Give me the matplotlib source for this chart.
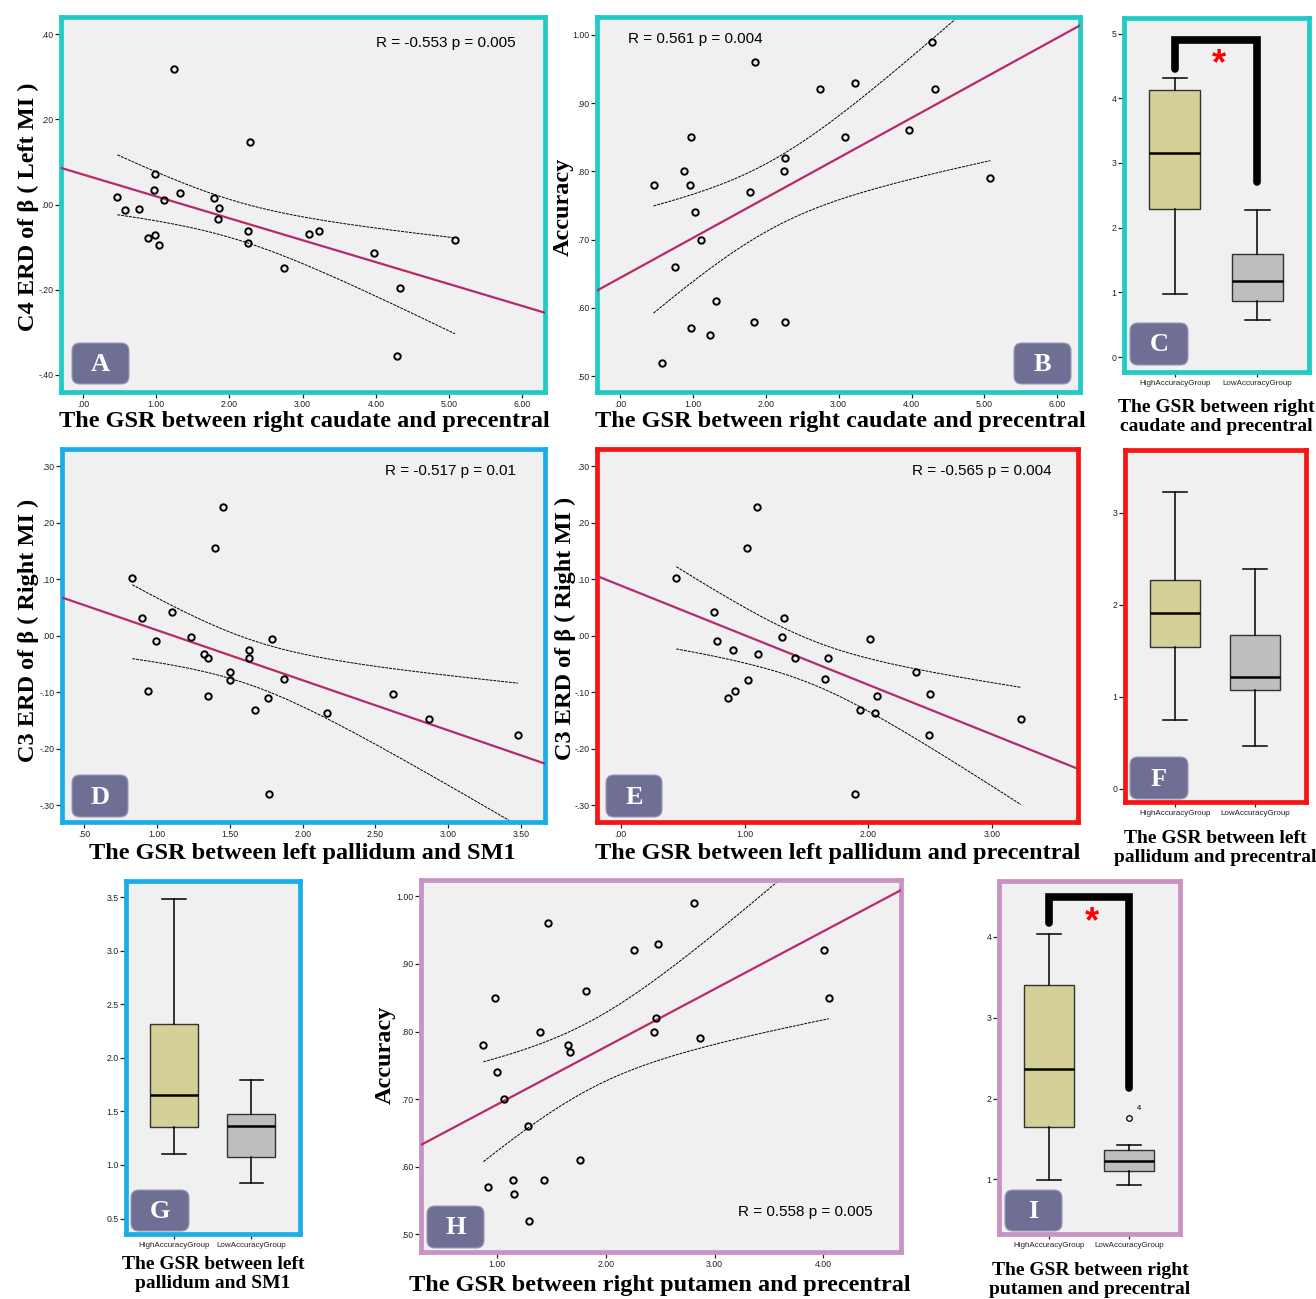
import numpy as np
import matplotlib
matplotlib.use("Agg")
import matplotlib.pyplot as plt
from matplotlib.patches import FancyBboxPatch
from matplotlib.ticker import FuncFormatter

W, H = 1316, 1299

# ---- data ----
a_x = [1.24, 2.28, 0.99, 0.97, 1.33, 0.47, 1.11, 1.79, 0.58, 0.76, 1.86, 1.85,
       2.26, 3.09, 3.23, 0.89, 0.99, 1.04, 2.26, 5.08, 3.98, 2.75, 4.33, 4.29]
a_y = [0.319, 0.147, 0.072, 0.034, 0.028, 0.018, 0.010, 0.016, -0.013, -0.011, -0.009, -0.035,
       -0.063, -0.069, -0.063, -0.078, -0.071, -0.096, -0.091, -0.084, -0.113, -0.148, -0.196, -0.355]

b_x = [0.46, 0.57, 0.76, 0.88, 0.96, 0.97, 0.98, 1.03, 1.11, 1.23, 1.32, 1.79,
       1.84, 1.85, 2.25, 2.26, 2.27, 2.74, 3.09, 3.22, 3.97, 4.28, 4.32, 5.08]
b_y = [0.78, 0.52, 0.66, 0.80, 0.78, 0.85, 0.57, 0.74, 0.70, 0.56, 0.61, 0.77,
       0.58, 0.96, 0.80, 0.82, 0.58, 0.92, 0.85, 0.93, 0.86, 0.99, 0.92, 0.79]

d_x = [0.83, 0.895, 0.99, 0.94, 1.10, 1.23, 1.32, 1.35, 1.35, 1.40, 1.45, 1.50,
       1.50, 1.63, 1.63, 1.67, 1.76, 1.77, 1.79, 1.875, 2.17, 2.62, 2.87, 3.48]
d_y = [0.103, 0.031, -0.010, -0.098, 0.042, -0.003, -0.033, -0.039, -0.106, 0.155, 0.228, -0.079,
       -0.065, -0.025, -0.039, -0.131, -0.111, -0.281, -0.006, -0.076, -0.136, -0.103, -0.147, -0.175]

e_x = [0.45, 0.75, 0.78, 0.91, 0.87, 0.92, 1.02, 1.03, 1.10, 1.11, 1.30, 1.32,
       1.405, 1.65, 1.67, 1.89, 1.93, 2.015, 2.05, 2.07, 2.385, 2.49, 2.50, 3.23]
e_y = [0.103, 0.042, -0.010, -0.025, -0.111, -0.098, 0.155, -0.079, 0.228, -0.033, -0.003, 0.031,
       -0.040, -0.076, -0.039, -0.281, -0.131, -0.006, -0.136, -0.106, -0.065, -0.175, -0.103, -0.147]

h_x = [0.874, 0.92, 0.98, 1.00, 1.06, 1.145, 1.16, 1.28, 1.29, 1.39, 1.43, 1.465,
       1.65, 1.67, 1.76, 1.82, 2.26, 2.44, 2.46, 2.48, 2.81, 2.87, 4.01, 4.05]
h_y = [0.78, 0.57, 0.85, 0.74, 0.70, 0.58, 0.56, 0.66, 0.52, 0.80, 0.58, 0.96,
       0.78, 0.77, 0.61, 0.86, 0.92, 0.80, 0.82, 0.93, 0.99, 0.79, 0.92, 0.85]

groups = ["HighAccuracyGroup", "LowAccuracyGroup"]
# whislo, q1, median, q3, whishi
c_high = [0.98, 2.29, 3.16, 4.13, 4.32]
c_low = [0.58, 0.87, 1.17, 1.59, 2.27]
f_high = [0.75, 1.54, 1.91, 2.27, 3.22]
f_low = [0.46, 1.07, 1.21, 1.67, 2.39]
g_high = [1.10, 1.35, 1.65, 2.32, 3.48]
g_low = [0.83, 1.07, 1.36, 1.475, 1.79]
i_high = [0.99, 1.65, 2.37, 3.40, 4.04]
i_low = [0.93, 1.11, 1.23, 1.36, 1.43]
i_low_outlier = [1.76]

stats_text = {"A": "R = -0.553 p = 0.005", "B": "R = 0.561 p = 0.004",
              "D": "R = -0.517 p = 0.01", "E": "R = -0.565 p = 0.004",
              "H": "R = 0.558 p = 0.005"}

# ---- styles ----
TEAL = "#1ECCC4"
BLUE = "#1AAEE8"
RED = "#F51515"
MAUVE = "#C892C2"
BG = "#F0F0F0"
BADGE = "#6F6F96"
REG = "#B8286E"
KHAKI = "#D5CF98"
GREY = "#BEBEBE"
SERIF = "Liberation Serif"
SANS = "Liberation Sans"

fig = plt.figure(figsize=(W / 100, H / 100), dpi=100)


def fx(x):
    return x / W


def fy(y):
    return 1 - y / H


def add_ax(l, t, r, b, color):
    ax = fig.add_axes([fx(l), fy(b), (r - l) / W, (b - t) / H])
    ax.set_facecolor(BG)
    for s in ax.spines.values():
        s.set_color(color)
        s.set_linewidth(3.4)
    ax.tick_params(direction="out", length=4.5, width=0.9, pad=1,
                   labelsize=6.3, labelcolor="#222222", color="#222222")
    return ax


def spss_fmt(v, pos=None):
    s = f"{v:.2f}"
    if s.startswith("0."):
        s = s[1:]
    elif s.startswith("-0."):
        s = "-" + s[2:]
    return s


def badge(letter, l, t, w=57, h=41):
    p = FancyBboxPatch((fx(l), fy(t + h)), w / W, h / H,
                       boxstyle="round,pad=0,rounding_size=0.006",
                       transform=fig.transFigure, facecolor=BADGE,
                       edgecolor="#9A9AB8", linewidth=0.8, zorder=5)
    fig.add_artist(p)
    fig.text(fx(l + w / 2), fy(t + h / 2 + 1), letter, color="white",
             fontsize=19, fontweight="bold", family=SERIF,
             ha="center", va="center", zorder=6)


def sans_ticks(ax):
    for lab in ax.get_xticklabels() + ax.get_yticklabels():
        lab.set_fontfamily(SANS)


def scatter_panel(x, y, frame, color, xlim, ylim, xticks, yticks):
    ax = add_ax(*frame, color)
    x = np.array(x)
    y = np.array(y)
    ax.plot(x, y, "o", mfc="none", mec="black", ms=4.6, mew=1.4, zorder=4)
    coef = np.polyfit(x, y, 1)
    xx = np.array(xlim)
    ax.plot(xx, np.polyval(coef, xx), color=REG, lw=1.6, zorder=3)
    # 95% confidence band of the mean
    n = len(x)
    resid = y - np.polyval(coef, x)
    s = np.sqrt(np.sum(resid ** 2) / (n - 2))
    xs = np.linspace(x.min(), x.max(), 200)
    se = s * np.sqrt(1 / n + (xs - x.mean()) ** 2 / np.sum((x - x.mean()) ** 2))
    t = 2.074
    for sign in (1, -1):
        ax.plot(xs, np.polyval(coef, xs) + sign * t * se, color="black",
                lw=0.7, ls=(0, (3, 1)), zorder=2)
    ax.set_xlim(xlim)
    ax.set_ylim(ylim)
    ax.set_xticks(xticks)
    ax.set_yticks(yticks)
    ax.xaxis.set_major_formatter(FuncFormatter(spss_fmt))
    ax.yaxis.set_major_formatter(FuncFormatter(spss_fmt))
    sans_ticks(ax)
    return ax


def box_panel(high, low, frame, color, ylim, yticks, yfmt, fliers=None):
    ax = add_ax(*frame, color)
    stats = []
    for lab, v, fl in ((groups[0], high, []), (groups[1], low, fliers or [])):
        stats.append({"label": lab, "whislo": v[0], "q1": v[1], "med": v[2],
                      "q3": v[3], "whishi": v[4], "fliers": fl})
    res = ax.bxp(stats, positions=[1, 2], widths=0.62, capwidths=0.3,
                 patch_artist=True,
                 boxprops=dict(edgecolor="#333333", linewidth=1.0),
                 medianprops=dict(color="black", linewidth=1.8),
                 whiskerprops=dict(color="black", linewidth=1.1),
                 capprops=dict(color="black", linewidth=1.1),
                 flierprops=dict(marker="o", mfc="none", mec="black", ms=4, mew=0.9))
    res["boxes"][0].set_facecolor(KHAKI)
    res["boxes"][1].set_facecolor(GREY)
    ax.set_xlim(0.38, 2.63)
    ax.set_ylim(ylim)
    ax.set_yticks(yticks)
    ax.yaxis.set_major_formatter(FuncFormatter(lambda v, p: yfmt % v))
    ax.tick_params(axis="x", labelsize=5.8, length=3.5, pad=2)
    sans_ticks(ax)
    return ax


def bracket(ax, y_left, y_top, y_right, star_y):
    ax.plot([1, 1, 2, 2], [y_left, y_top, y_top, y_right], color="black",
            lw=5.5, solid_capstyle="round", solid_joinstyle="miter",
            clip_on=False, zorder=5)
    ax.text(1.54, star_y, "*", color="red", fontsize=26, fontweight="bold",
            family=SANS, ha="center", va="center", zorder=6)


# ---- panels ----
axA = scatter_panel(a_x, a_y, (61, 17, 545, 392), TEAL, (-0.3, 6.31), (-0.44, 0.44),
                    np.arange(0, 7, 1.0), np.arange(-0.4, 0.41, 0.2))
axB = scatter_panel(b_x, b_y, (597, 17, 1080, 392), TEAL, (-0.315, 6.31), (0.477, 1.026),
                    np.arange(0, 7, 1.0), np.arange(0.5, 1.01, 0.1))
axD = scatter_panel(d_x, d_y, (62, 449, 545, 822), BLUE, (0.347, 3.665), (-0.33, 0.331),
                    np.arange(0.5, 3.51, 0.5), np.arange(-0.3, 0.31, 0.1))
axE = scatter_panel(e_x, e_y, (597, 449, 1078, 822), RED, (-0.19, 3.69), (-0.33, 0.331),
                    np.arange(0, 3.01, 1.0), np.arange(-0.3, 0.31, 0.1))
axH = scatter_panel(h_x, h_y, (421, 880, 901, 1252), MAUVE, (0.30, 4.715), (0.474, 1.024),
                    np.arange(1, 4.01, 1.0), np.arange(0.5, 1.01, 0.1))

axC = box_panel(c_high, c_low, (1124, 18, 1309, 372), TEAL, (-0.23, 5.24), range(0, 6), "%d")
axF = box_panel(f_high, f_low, (1125, 450, 1306, 802), RED, (-0.145, 3.68), range(0, 4), "%d")
axG = box_panel(g_high, g_low, (126, 881, 300, 1234), BLUE, (0.356, 3.65),
                np.arange(0.5, 3.51, 0.5), "%.1f")
axI = box_panel(i_high, i_low, (999, 881, 1180, 1234), MAUVE, (0.325, 4.69), range(1, 5), "%d",
                fliers=i_low_outlier)
axI.text(2.1, i_low_outlier[0] + 0.07, "4", fontsize=5.5, family=SANS, va="bottom")

bracket(axC, 4.45, 4.9, 2.7, 4.52)
bracket(axI, 4.17, 4.49, 2.13, 4.17)

# stats annotations
axA.text(0.94, 0.93, stats_text["A"], transform=axA.transAxes, ha="right", va="center",
         fontsize=11, family=SANS)
axB.text(0.065, 0.94, stats_text["B"], transform=axB.transAxes, ha="left", va="center",
         fontsize=11, family=SANS)
axD.text(0.94, 0.94, stats_text["D"], transform=axD.transAxes, ha="right", va="center",
         fontsize=11, family=SANS)
axE.text(0.945, 0.94, stats_text["E"], transform=axE.transAxes, ha="right", va="center",
         fontsize=11, family=SANS)
axH.text(0.94, 0.107, stats_text["H"], transform=axH.transAxes, ha="right", va="center",
         fontsize=11, family=SANS)

# axis titles
lab_kw = dict(fontsize=17.5, fontweight="bold", family=SERIF, ha="center", va="center")
fig.text(fx(304), fy(422), "The GSR between right caudate and precentral", **lab_kw)
fig.text(fx(840), fy(422), "The GSR between right caudate and precentral", **lab_kw)
fig.text(fx(302), fy(854), "The GSR between left pallidum and SM1", **lab_kw)
fig.text(fx(838), fy(854), "The GSR between left pallidum and precentral", **lab_kw)
fig.text(fx(660), fy(1285), "The GSR between right putamen and precentral", **lab_kw)
fig.text(fx(28), fy(207), "C4 ERD of β ( Left MI )", rotation=90, **lab_kw)
fig.text(fx(563), fy(207), "Accuracy", rotation=90, **lab_kw)
fig.text(fx(28), fy(630), "C3 ERD of β ( Right MI )", rotation=90, **lab_kw)
fig.text(fx(565), fy(628), "C3 ERD of β ( Right MI )", rotation=90, **lab_kw)
fig.text(fx(385), fy(1055), "Accuracy", rotation=90, **lab_kw)

box_kw = dict(fontsize=14, fontweight="bold", family=SERIF, ha="center", va="center",
              linespacing=1.12)
fig.text(fx(1216), fy(417), "The GSR between right\ncaudate and precentral", **box_kw)
fig.text(fx(1215), fy(848), "The GSR between left\npallidum and precentral", **box_kw)
fig.text(fx(213), fy(1274), "The GSR between left\npallidum and SM1", **box_kw)
fig.text(fx(1090), fy(1280), "The GSR between right\nputamen and precentral", **box_kw)

# panel letters
badge("A", 72, 343)
badge("B", 1014, 343)
badge("C", 1130, 323, 58, 42)
badge("D", 72, 775, 56, 42)
badge("E", 606, 775, 56, 42)
badge("F", 1130, 757, 58, 42)
badge("G", 131, 1190, 58, 41)
badge("H", 427, 1206, 57, 42)
badge("I", 1005, 1190, 57, 41)

fig.savefig("out.png", dpi=100)
